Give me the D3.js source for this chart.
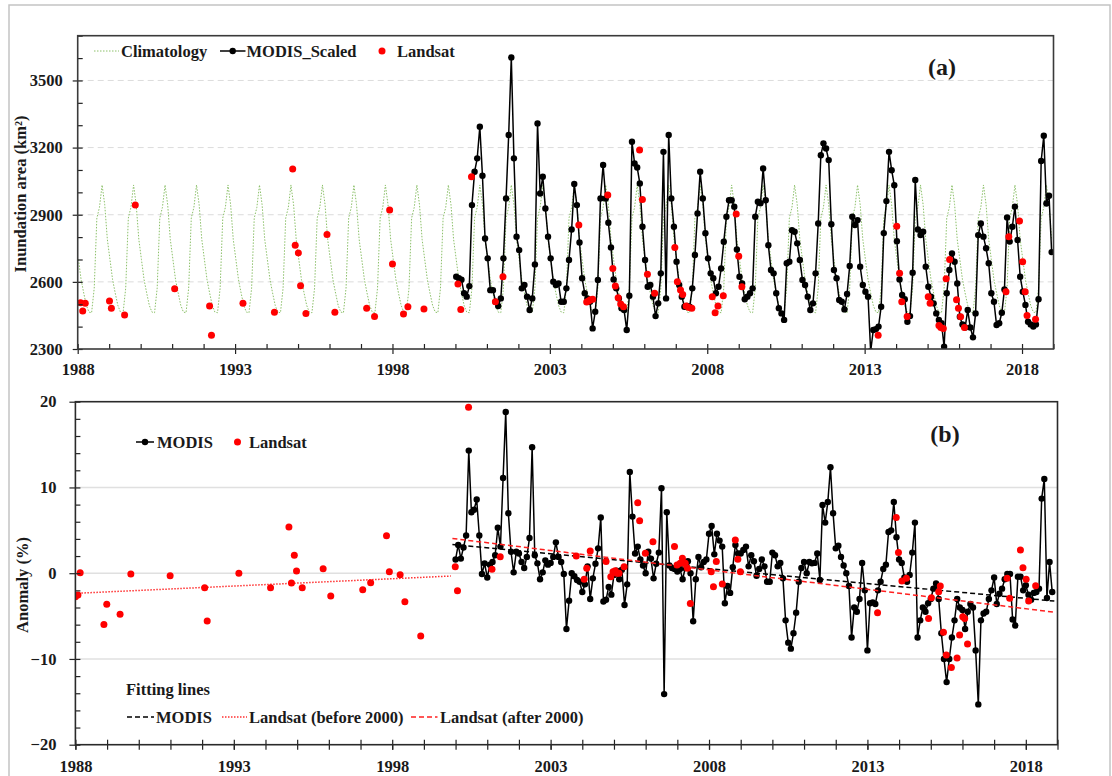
<!DOCTYPE html>
<html>
<head>
<meta charset="utf-8">
<script src="https://cdn.jsdelivr.net/npm/d3@7"></script>
<style>
body { margin: 0; background: #fff; }
text { font-family: "Liberation Serif", "Times New Roman", serif; font-weight: bold; fill: #1a1a1a; }
</style>
</head>
<body>
<script>
// ---- data ----
// monthly climatology (Jan..Dec), repeated every year 1988-2018
var climatology = [2700, 2610, 2550, 2495, 2465, 2462, 2572, 2885, 2933, 3033, 2945, 2790];
var climYears = d3.range(1988, 2019);

// MODIS_Scaled inundation area (km2), monthly from Jan 2000
var modisArea = [
  2623, 2616, 2610, 2549, 2534, 2581, 2943, 3092, 3152, 3293, 3074, 2794,
  2705, 2563, 2563, 2511, 2492, 2526, 2705, 2973, 3256, 3603, 3152, 2802,
  2742, 2571, 2586, 2534, 2474, 2526, 2678, 3308, 2995, 3070, 2928, 2802,
  2705, 2601, 2586, 2593, 2511, 2511, 2571, 2698, 2834, 3037, 2943, 2776,
  2616, 2549, 2526, 2511, 2392, 2467, 2608, 2973, 3122, 2973, 2864, 2754,
  2611, 2571, 2526, 2482, 2474, 2385, 2538, 3226, 3129, 3111, 3040, 2846,
  2698, 2578, 2586, 2534, 2447, 2504, 2638, 3181, 2526, 3256, 2973, 2846,
  2690, 2586, 2534, 2489, 2492, 2489, 2571, 2720, 2906, 3092, 2973, 2817,
  2705, 2638, 2616, 2549, 2578, 2660, 2779, 2891, 2965, 2965, 2936, 2745,
  2623, 2593, 2522, 2534, 2549, 2571, 2891, 2958, 2951, 3107, 2965, 2764,
  2653, 2638, 2549, 2482, 2459, 2430, 2683, 2690, 2831, 2824, 2772, 2698,
  2608, 2586, 2534, 2474, 2504, 2638, 2861, 3166, 3219, 3196, 3144, 2858,
  2653, 2616, 2519, 2511, 2477, 2546, 2671, 2891, 2854, 2876, 2668, 2586,
  2556, 2534, 2290, 2385, 2389, 2400, 2489, 2818, 2961, 3181, 3099, 3032,
  2782, 2611, 2541, 2522, 2422, 2447, 2641, 3055, 2834, 2809, 2824, 2668,
  2578, 2534, 2504, 2459, 2430, 2415, 2310, 2549, 2653, 2727, 2690, 2593,
  2444, 2410, 2396, 2474, 2396, 2352, 2459, 2809, 2861, 2802, 2750, 2683,
  2549, 2511, 2407, 2415, 2462, 2566, 2888, 2780, 2846, 2936, 2787, 2623,
  2556, 2497, 2422, 2410, 2400, 2410, 2522, 3140, 3253, 2950, 2985, 2733
];
// MODIS anomaly (%), monthly points plotted from Jan 2000
var modisAnomaly = [
  1.6, 3.3, 1.7, 3.0, 4.4, 14.3, 7.1, 7.4, 8.6, 4.4, -0.1, 1.15,
  -0.5, 1.0, 1.3, 2.1, 5.3, 3.1, 11.1, 18.8, 7.0, 2.5, 0.1, 2.5,
  2.3, 1.3, 0.6, 1.9, 4.1, 14.7, 2.1, 1.15, -0.7, 0.1, 1.5, 1.0,
  1.2, 1.9, 3.6, 1.9, 1.3, -0.1, -6.5, -3.2, 0.0, -0.35, -0.8, -1.0,
  -2.2, -1.3, 0.8, -3.0, -0.6, 1.1, 2.9, 6.5, -3.3, -3.1, -1.6, -2.5,
  -0.2, 0.3, -0.7, 0.4, -3.7, -1.3, 11.8, 6.6, 2.3, 3.1, 1.6, 0.9,
  0.0, 2.5, 1.7, -0.6, 1.1, 2.4, 9.9, -14.1, 7.1, 0.9, 0.6, 0.5,
  0.2, 0.5, -0.7, 0.6, 1.4, 0.0, -5.6, -0.7, 1.9, 0.7, 1.3, 1.6,
  4.6, 5.5, 2.2, 4.6, 3.8, 3.1, -3.5, -1.5, -2.3, 0.7, 3.3, 2.3,
  2.3, 2.7, 3.1, 0.8, 2.1, 1.4, -0.3, 0.5, 1.6, 0.8, -1.0, -1.0,
  2.4, 2.1, 0.8, 1.2, -0.6, -5.5, -8.1, -8.8, -7.0, -4.6, -1.0, 0.6,
  1.3, 0.0, 1.3, 1.15, 1.2, 2.3, -0.8, 7.95, 5.9, 8.3, 12.35, 7.0,
  2.9, 3.2, 1.9, 0.9, 0.0, -1.5, -7.5, -4.0, -4.5, -3.0, 1.2, -2.0,
  -9.0, -3.5, -3.4, -3.6, -2.0, -1.0, 0.5, 1.0, 4.8, 5.0, 8.3, 4.2,
  1.6, 1.2, -0.5, -1.0, -0.2, 2.4, 5.9, -7.5, -5.5, -4.0, -4.5, -3.5,
  -3.0, -1.8, -1.2, -3.0, -7.0, -10.0, -12.7, -10.0, -7.5, -5.5, -3.0, -4.0,
  -4.3, -6.5, -4.5, -3.6, -4.0, -9.0, -15.3, -5.5, -4.7, -4.5, -3.0, -2.0,
  -0.5, -3.6, -2.4, -1.8, -0.7, -0.1, -0.1, -5.4, -6.1, -0.4, -0.4, -2.0,
  -1.4, -2.5, -3.1, -2.3, -2.2, -1.8, 8.7, 11.0, -2.9, 1.3, -2.2
];

// Landsat inundation area (panel a)
var landsatYearA = [1988.09, 1988.16, 1988.24, 1989.01, 1989.07, 1989.49, 1989.83, 1991.08, 1992.19, 1992.25,
  1993.25, 1994.25, 1994.83, 1994.91, 1995.01, 1995.08, 1995.25, 1995.92, 1996.17, 1997.18,
  1997.43, 1997.91, 1998.0, 1998.35, 1998.49, 1999.0,
  2000.08, 2000.17, 2000.51, 2001.27, 2001.51, 2003.92, 2004.17, 2004.23, 2004.29, 2004.36,
  2004.84, 2005.0, 2005.08, 2005.17, 2005.25, 2005.34, 2005.85, 2005.94, 2006.1, 2006.33,
  2006.97, 2007.05, 2007.15, 2007.22, 2007.33, 2007.42, 2007.51, 2008.16, 2008.25, 2008.34,
  2008.51, 2008.92, 2009.0, 2009.1, 2013.43, 2014.02, 2014.11, 2014.18, 2014.35, 2015.02,
  2015.08, 2015.36, 2015.42, 2015.5, 2015.59, 2015.7, 2015.92, 2015.98, 2016.05, 2016.17,
  2017.49, 2017.58, 2017.92, 2018.02, 2018.1, 2018.16, 2018.43];
var landsatArea = [2507, 2470, 2504, 2514, 2482, 2452, 2943, 2569, 2492, 2362,
  2504, 2464, 3104, 2764, 2729, 2583, 2459, 2812, 2464, 2482,
  2445, 2921, 2680, 2456, 2489, 2479,
  2590, 2477, 3070, 2511, 2623, 2854, 2510, 2515, 2520, 2522,
  2988, 2660, 2581, 2529, 2501, 2489, 3189, 2968, 2634, 2549,
  2754, 2601, 2564, 2544, 2492, 2485, 2482, 2534, 2462, 2492,
  2538, 2903, 2715, 2578, 2361, 2849, 2638, 2511, 2445, 2534,
  2504, 2405, 2396, 2392, 2614, 2700, 2520, 2482, 2444, 2396,
  2556, 2802, 2872, 2690, 2556, 2450, 2433];

// Landsat anomaly (panel b)
var landsatYearB = [1988.0, 1988.08, 1988.15, 1988.9, 1988.99, 1989.41, 1989.75, 1990.99, 1992.08, 1992.16,
  1993.16, 1994.16, 1994.74, 1994.82, 1994.91, 1994.98, 1995.16, 1995.82, 1996.06, 1997.07,
  1997.32, 1997.82, 1997.91, 1998.25, 1998.4, 1998.9,
  1999.99, 2000.06, 2000.41, 2001.15, 2001.41, 2003.81, 2004.06, 2004.14, 2004.25, 2004.75,
  2004.9, 2004.97, 2005.04, 2005.09, 2005.16, 2005.32, 2005.75, 2005.81, 2005.99, 2006.23,
  2006.91, 2006.99, 2007.09, 2007.16, 2007.25, 2007.32, 2007.41, 2008.07, 2008.14, 2008.23,
  2008.42, 2008.83, 2008.91, 2008.99, 2013.32, 2013.91, 2013.98, 2014.09, 2014.23, 2014.93,
  2015.02, 2015.25, 2015.3, 2015.4, 2015.49, 2015.65, 2015.83, 2015.91, 2016.01, 2016.07,
  2016.16, 2017.41, 2017.49, 2017.83, 2017.91, 2018.01, 2018.09, 2018.31];
var landsatAnomaly = [-2.74, -2.55, 0.06, -5.97, -3.63, -4.8, -0.1, -0.29, -1.69, -5.58,
  0.0, -1.69, 5.39, -1.14, 2.08, 0.26, -1.69, 0.53, -2.66, -1.92,
  -1.1, 4.38, 0.18, -0.17, -3.32, -7.32,
  0.76, -2.04, 19.34, 0.45, 1.93, 2.0, -0.71, 0.57, 2.6, 1.35,
  -0.4, 0.18, 0.3, 0.0, 0.0, 0.76, 8.22, 6.12, 2.32, 3.68,
  3.1, 0.96, 1.15, 1.73, 1.15, 0.57, -3.53, 0.18, -1.57, 1.35,
  -1.26, 3.87, 1.62, 0.18, -4.6, 6.51, 2.4, -0.9, -0.6, -5.27,
  -2.86, -2.16, -1.5, -6.9, -9.54, -11.0, -9.9, -7.2, -5.07, -5.27,
  -8.26, -0.6, -2.93, 2.7, 0.65, -0.72, -3.24, -1.45];

// fitting lines (end points)
var fitModisX = [1999.9, 2018.9], fitModisY = [3.35, -3.25];
var fitPreX = [1988.0, 1999.85], fitPreY = [-2.35, -0.33];
var fitPostX = [1999.9, 2018.9], fitPostY = [4.05, -4.55];

var yearTicks = [1988, 1993, 1998, 2003, 2008, 2013, 2018];
var areaTicks = [2300, 2600, 2900, 3200, 3500];
var anomTicks = [-20, -10, 0, 10, 20];

// ---- build point lists ----
var modisA = modisArea.map(function(v, i) { return {t: 2000 + (i + 0.3) / 12, v: v}; });
var modisB = modisAnomaly.map(function(v, i) { return {t: 2000 + i / 12, v: v}; });
var climA = [];
climYears.forEach(function(y) {
  climatology.forEach(function(c, mi) { climA.push({t: y + (mi + 0.3) / 12, v: c}); });
});

var svg = d3.select("body").append("svg").attr("width", 1112).attr("height", 776);

svg.append("rect").attr("x", 9).attr("y", 5).attr("width", 1101).attr("height", 800)
  .attr("fill", "none").attr("stroke", "#c4c4c4").attr("stroke-width", 1.5);

function styleAxis(g) {
  g.select(".domain").remove();
  g.selectAll("line").attr("stroke", "#222").attr("stroke-width", 1.2);
  g.selectAll("text").style("font-family", "'Liberation Serif', serif")
    .style("font-weight", "bold").style("font-size", "16.5px").attr("fill", "#1a1a1a");
}

// ================= panel (a) =================
var xA = d3.scaleLinear().domain([1988, 2019]).range([77.7, 1053.5]);
var yA = d3.scaleLinear().domain([2300, 3700]).range([349, 35.7]);

svg.append("clipPath").attr("id", "clipA").append("rect")
  .attr("x", xA(1988)).attr("y", yA(3700)).attr("width", xA(2019) - xA(1988)).attr("height", yA(2300) - yA(3700));

svg.append("g").selectAll("line").data(areaTicks.slice(1)).enter().append("line")
  .attr("x1", xA(1988)).attr("x2", xA(2019)).attr("y1", yA).attr("y2", yA)
  .attr("stroke", "#dcdcdc").attr("stroke-width", 1).attr("stroke-dasharray", "6,4");

var plotA = svg.append("g").attr("clip-path", "url(#clipA)");
plotA.append("path").datum(climA)
  .attr("d", d3.line().x(function(d) { return xA(d.t); }).y(function(d) { return yA(d.v); }))
  .attr("fill", "none").attr("stroke", "#8cc06a").attr("stroke-width", 1).attr("stroke-dasharray", "1.5,1.5");
plotA.append("path").datum(modisA)
  .attr("d", d3.line().x(function(d) { return xA(d.t); }).y(function(d) { return yA(d.v); }))
  .attr("fill", "none").attr("stroke", "#000").attr("stroke-width", 1.5);
plotA.selectAll("circle.m").data(modisA).enter().append("circle").attr("class", "m")
  .attr("cx", function(d) { return xA(d.t); }).attr("cy", function(d) { return yA(d.v); })
  .attr("r", 3.2).attr("fill", "#000");
plotA.selectAll("circle.l").data(landsatYearA).enter().append("circle").attr("class", "l")
  .attr("cx", function(d) { return xA(d); }).attr("cy", function(d, i) { return yA(landsatArea[i]); })
  .attr("r", 3.5).attr("fill", "#ff0000");

svg.append("g").attr("transform", "translate(0,349)")
  .call(d3.axisBottom(xA).tickValues(yearTicks).tickFormat(d3.format("d")).tickSize(5).tickPadding(9))
  .call(styleAxis);
svg.append("g").attr("transform", "translate(0,349)")
  .call(d3.axisBottom(xA).tickValues(d3.range(1988, 2020)).tickSize(-5).tickFormat(""))
  .call(styleAxis);
svg.append("g").attr("transform", "translate(77.7,0)")
  .call(d3.axisLeft(yA).tickValues(areaTicks).tickFormat(d3.format("d")).tickSize(5).tickPadding(10))
  .call(styleAxis);
svg.append("g").attr("transform", "translate(77.7,0)")
  .call(d3.axisLeft(yA).tickValues(d3.range(2300, 3701, 100)).tickSize(-5).tickFormat(""))
  .call(styleAxis);

svg.append("rect").attr("x", xA(1988)).attr("y", yA(3700))
  .attr("width", xA(2019) - xA(1988)).attr("height", yA(2300) - yA(3700))
  .attr("fill", "none").attr("stroke", "#3a3a3a").attr("stroke-width", 1.6);

svg.append("text").attr("transform", "translate(26,194) rotate(-90)")
  .attr("text-anchor", "middle").style("font-size", "16.5px").text("Inundation area (km²)");

var legA = svg.append("g").style("font-size", "16.5px");
legA.append("line").attr("x1", 94).attr("x2", 119).attr("y1", 51).attr("y2", 51)
  .attr("stroke", "#8cc06a").attr("stroke-dasharray", "1.5,1.5");
legA.append("text").attr("x", 121).attr("y", 57).text("Climatology");
legA.append("line").attr("x1", 220).attr("x2", 245.5).attr("y1", 51).attr("y2", 51)
  .attr("stroke", "#000").attr("stroke-width", 1.5);
legA.append("circle").attr("cx", 232.7).attr("cy", 51).attr("r", 3.2);
legA.append("text").attr("x", 246.5).attr("y", 57).text("MODIS_Scaled");
legA.append("circle").attr("cx", 382).attr("cy", 51).attr("r", 3.5).attr("fill", "#ff0000");
legA.append("text").attr("x", 397).attr("y", 57).text("Landsat");
svg.append("text").attr("x", 942).attr("y", 75).attr("text-anchor", "middle")
  .style("font-size", "24px").text("(a)");

// ================= panel (b) =================
var xB = d3.scaleLinear().domain([1988, 2019]).range([75.4, 1057.5]);
var yB = d3.scaleLinear().domain([-20, 20]).range([744.7, 401.7]);

svg.append("clipPath").attr("id", "clipB").append("rect")
  .attr("x", xB(1988)).attr("y", yB(20)).attr("width", xB(2019) - xB(1988)).attr("height", yB(-20) - yB(20));

svg.append("g").selectAll("line").data([-10, 0, 10]).enter().append("line")
  .attr("x1", xB(1988)).attr("x2", xB(2019)).attr("y1", yB).attr("y2", yB)
  .attr("stroke", "#e0e0e0").attr("stroke-width", 1.5);

var plotB = svg.append("g").attr("clip-path", "url(#clipB)");
function fitLine(xs, ys, color, dash) {
  plotB.append("line").attr("x1", xB(xs[0])).attr("x2", xB(xs[1]))
    .attr("y1", yB(ys[0])).attr("y2", yB(ys[1]))
    .attr("stroke", color).attr("stroke-width", 1.5).attr("stroke-dasharray", dash);
}
plotB.append("path").datum(modisB)
  .attr("d", d3.line().x(function(d) { return xB(d.t); }).y(function(d) { return yB(d.v); }))
  .attr("fill", "none").attr("stroke", "#000").attr("stroke-width", 1.5);
plotB.selectAll("circle.m").data(modisB).enter().append("circle").attr("class", "m")
  .attr("cx", function(d) { return xB(d.t); }).attr("cy", function(d) { return yB(d.v); })
  .attr("r", 3.2).attr("fill", "#000");
fitLine(fitPreX, fitPreY, "#ff3030", "1.5,1.5");
fitLine(fitModisX, fitModisY, "#000", "5,3");
fitLine(fitPostX, fitPostY, "#ff2020", "5,3");
plotB.selectAll("circle.l").data(landsatYearB).enter().append("circle").attr("class", "l")
  .attr("cx", function(d) { return xB(d); }).attr("cy", function(d, i) { return yB(landsatAnomaly[i]); })
  .attr("r", 3.5).attr("fill", "#ff0000");

svg.append("g").attr("transform", "translate(0,744.7)")
  .call(d3.axisBottom(xB).tickValues(yearTicks).tickFormat(d3.format("d")).tickSize(5).tickPadding(10.5))
  .call(styleAxis);
svg.append("g").attr("transform", "translate(0,744.7)")
  .call(d3.axisBottom(xB).tickValues(d3.range(1988, 2020)).tickSize(5).tickFormat(""))
  .call(styleAxis);
svg.append("g").attr("transform", "translate(0,744.7)")
  .call(d3.axisBottom(xB).tickValues(d3.range(1988, 2020)).tickSize(-5).tickFormat(""))
  .call(styleAxis);
svg.append("g").attr("transform", "translate(75.4,0)")
  .call(d3.axisLeft(yB).tickValues(anomTicks).tickSize(6).tickPadding(13))
  .call(styleAxis);
svg.append("g").attr("transform", "translate(75.4,0)")
  .call(d3.axisLeft(yB).tickValues(d3.range(-20, 21, 2)).tickSize(-5).tickFormat(""))
  .call(styleAxis);

svg.append("rect").attr("x", xB(1988)).attr("y", yB(20))
  .attr("width", xB(2019) - xB(1988)).attr("height", yB(-20) - yB(20))
  .attr("fill", "none").attr("stroke", "#2a2a2a").attr("stroke-width", 1.6);

svg.append("text").attr("transform", "translate(28,585) rotate(-90)")
  .attr("text-anchor", "middle").style("font-size", "16.5px").text("Anomaly (%)");

var legB = svg.append("g").style("font-size", "16.5px");
legB.append("line").attr("x1", 136).attr("x2", 154).attr("y1", 442).attr("y2", 442)
  .attr("stroke", "#000").attr("stroke-width", 1.5);
legB.append("circle").attr("cx", 145).attr("cy", 442).attr("r", 3.2);
legB.append("text").attr("x", 157).attr("y", 448).text("MODIS");
legB.append("circle").attr("cx", 237.5).attr("cy", 442).attr("r", 3.5).attr("fill", "#ff0000");
legB.append("text").attr("x", 249).attr("y", 448).text("Landsat");
legB.append("text").attr("x", 126).attr("y", 694.5).text("Fitting lines");
legB.append("line").attr("x1", 127).attr("x2", 154).attr("y1", 717).attr("y2", 717)
  .attr("stroke", "#000").attr("stroke-width", 1.5).attr("stroke-dasharray", "5,3");
legB.append("text").attr("x", 156).attr("y", 722.5).text("MODIS");
legB.append("line").attr("x1", 222).attr("x2", 247).attr("y1", 717).attr("y2", 717)
  .attr("stroke", "#ff3030").attr("stroke-width", 1.5).attr("stroke-dasharray", "1.5,1.5");
legB.append("text").attr("x", 249).attr("y", 722.5).text("Landsat (before 2000)");
legB.append("line").attr("x1", 411).attr("x2", 437.5).attr("y1", 717).attr("y2", 717)
  .attr("stroke", "#ff2020").attr("stroke-width", 1.5).attr("stroke-dasharray", "5,3");
legB.append("text").attr("x", 440).attr("y", 722.5).text("Landsat (after 2000)");
svg.append("text").attr("x", 945).attr("y", 442).attr("text-anchor", "middle")
  .style("font-size", "24px").text("(b)");
</script>
</body>
</html>
